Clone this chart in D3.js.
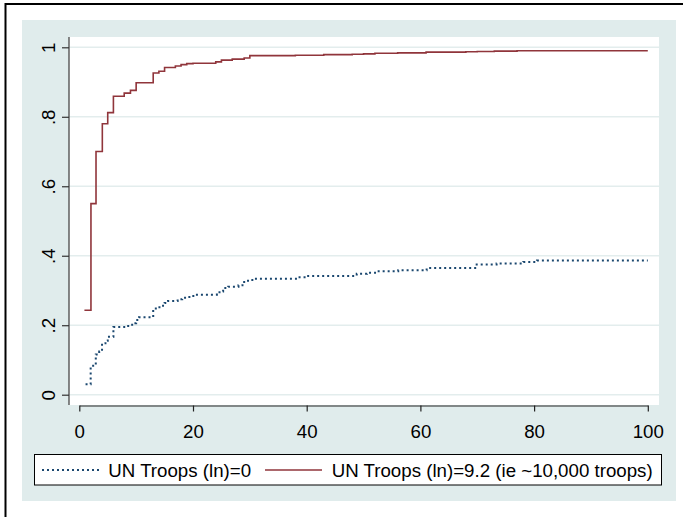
<!DOCTYPE html>
<html><head><meta charset="utf-8">
<script src="https://cdn.jsdelivr.net/npm/d3@7"></script>
<style>body{margin:0;background:#fff}svg{display:block}text{font-family:"Liberation Sans",Arial,Helvetica,sans-serif}</style>
</head><body>
<svg id="c" width="683" height="517"></svg>
<script>
// Data
const seriesNames = ["UN Troops (ln)=0", "UN Troops (ln)=9.2 (ie ~10,000 troops)"];
const blueSteps = [[1.1,0.030],[2.0,0.083],[2.9,0.116],[3.5,0.124],[4.0,0.148],[4.6,0.155],[5.0,0.167],[6.0,0.195],[7.9,0.198],[8.9,0.201],[9.5,0.206],[10.0,0.215],[10.5,0.223],[13.0,0.248],[13.7,0.252],[14.4,0.256],[15.0,0.264],[15.6,0.270],[17.3,0.275],[18.1,0.279],[19.0,0.281],[19.8,0.284],[20.5,0.288],[24.2,0.295],[25.0,0.297],[25.3,0.307],[26.2,0.311],[28.0,0.315],[28.7,0.320],[29.0,0.328],[30.0,0.330],[30.7,0.334],[38.5,0.338],[40.0,0.342],[48.8,0.348],[50.6,0.351],[52.3,0.355],[56.1,0.358],[61.1,0.365],[69.9,0.375],[73.4,0.378],[78.1,0.382],[80.5,0.386],[100,0.386]];
const redSteps = [[0.9,0.243],[2.05,0.55],[2.94,0.70],[4.05,0.78],[5.0,0.812],[6.0,0.859],[7.9,0.868],[9.0,0.876],[10.0,0.898],[13.0,0.926],[14.0,0.931],[15.0,0.942],[16.9,0.946],[17.9,0.950],[18.9,0.953],[20.0,0.954],[24.0,0.958],[25.0,0.963],[26.9,0.966],[29.0,0.969],[30.0,0.976],[38,0.977],[43,0.979],[48,0.980],[50,0.981],[52,0.983],[56,0.984],[61,0.986],[68,0.987],[70,0.988],[73,0.989],[77,0.990],[100,0.990]];
const xTicks = [0,20,40,60,80,100];
const yTicks = [0,0.2,0.4,0.6,0.8,1];
const yTickLabels = ["0",".2",".4",".6",".8","1"];

const svg = d3.select("#c");
const blue = "#1a476f", red = "#90353b";
const FS = 18.7;
// outer frame
svg.append("line").attr("x1",5).attr("x2",683).attr("y1",4).attr("y2",4).attr("stroke","#000").attr("stroke-width",2);
svg.append("line").attr("x1",5.5).attr("x2",5.5).attr("y1",3).attr("y2",517).attr("stroke","#000").attr("stroke-width",2);
// graph region
svg.append("rect").attr("x",22).attr("y",20).attr("width",654).attr("height",481).attr("fill","#e0ecec");
// plot region
const P = {l:69, r:659, t:37, b:405};
svg.append("rect").attr("x",P.l).attr("y",P.t).attr("width",P.r-P.l).attr("height",P.b-P.t).attr("fill","#fff");

const x = d3.scaleLinear().domain([0,100]).range([79.3,647.8]);
const y = d3.scaleLinear().domain([0,1]).range([394.7,47.3]);

// gridlines
svg.append("g").selectAll("line").data(yTicks).join("line")
  .attr("x1",P.l).attr("x2",P.r).attr("y1",d=>y(d)).attr("y2",d=>y(d))
  .attr("stroke","#e3eded").attr("stroke-width",1.6);

// lines
const line = d3.line().x(d=>x(d[0])).y(d=>y(d[1])).curve(d3.curveStepAfter);
svg.append("path").datum(blueSteps).attr("d",line).attr("fill","none")
  .attr("stroke",blue).attr("stroke-width",2).attr("stroke-dasharray","2,3");
svg.append("path").datum(redSteps).attr("d",line).attr("fill","none")
  .attr("stroke",red).attr("stroke-width",1.6);

// y axis
svg.append("line").attr("x1",P.l).attr("x2",P.l).attr("y1",P.t).attr("y2",P.b).attr("stroke","#555").attr("stroke-width",1.4);
const yAxis = svg.append("g").attr("transform",`translate(${P.l},0)`)
  .call(d3.axisLeft(y).tickValues(yTicks).tickSize(7).tickSizeOuter(0).tickFormat((d,i)=>yTickLabels[i]));
yAxis.select(".domain").remove();
yAxis.selectAll(".tick line").attr("stroke","#333").attr("stroke-width",1.2);
yAxis.selectAll(".tick text").attr("x",null).attr("dy",null).attr("text-anchor","middle")
  .attr("transform","translate(-14,0) rotate(-90)").attr("font-size",FS).attr("fill","#000");

// x axis
const xAxis = svg.append("g").attr("transform","translate(0,405.5)")
  .call(d3.axisBottom(x).tickValues(xTicks).tickSize(6).tickSizeOuter(0));
xAxis.select(".domain").attr("stroke","#222").attr("stroke-width",1.2);
xAxis.selectAll(".tick line").attr("stroke","#222").attr("stroke-width",1.2);
xAxis.selectAll(".tick text").attr("y",32).attr("dy",null).attr("font-size",FS).attr("fill","#000");

// legend
svg.append("rect").attr("x",34.5).attr("y",454.5).attr("width",627).attr("height",30.5).attr("fill","#fff").attr("stroke","#000").attr("stroke-width",1);
svg.append("line").attr("x1",42).attr("x2",101).attr("y1",470).attr("y2",470).attr("stroke",blue).attr("stroke-width",2).attr("stroke-dasharray","2,3");
svg.append("text").attr("x",108.3).attr("y",476.5).attr("font-size",FS).text(seriesNames[0]);
svg.append("line").attr("x1",265).attr("x2",322).attr("y1",470).attr("y2",470).attr("stroke",red).attr("stroke-width",1.6);
svg.append("text").attr("x",331.7).attr("y",476.5).attr("font-size",FS).text(seriesNames[1]);
</script>
</body></html>
